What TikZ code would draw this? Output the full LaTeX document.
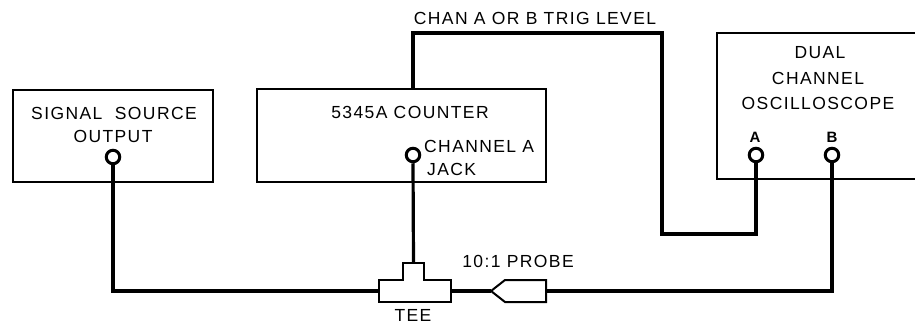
\documentclass[tikz,border=0pt]{standalone}
\usepackage{fontspec}
\setmainfont{Liberation Sans}[LetterSpace=8.0]
\begin{document}
\begin{tikzpicture}[x=1pt,y=-1pt,
  lbl/.style={font=\fontsize{17.5}{19}\selectfont, inner sep=0pt, align=center},
  box/.style={draw, line width=2pt, rectangle, inner sep=0pt},
  wire/.style={line width=3.2pt, line join=miter},
  jack/.style={circle, draw, line width=3pt, fill=white, minimum size=13.5pt, inner sep=0pt},
  part/.style={draw, line width=2pt, line join=miter}]
\useasboundingbox (0,0) rectangle (915,324);
% boxes
\node[box, minimum width=200pt, minimum height=92pt] (src) at (113,136) {};
\node[box, minimum width=289pt, minimum height=93pt] (ctr) at (401.5,135.5) {};
\coordinate (oscTL) at (717,33);
\coordinate (oscBL) at (717,179);
\coordinate (oscTR) at (915,33);
\coordinate (oscBR) at (915,179);
\draw[line width=2pt] (oscTR) -- (oscTL) -- (oscBL) -- (oscBR);
% texts
\node[lbl] (srct1) at (114,113) {SIGNAL\ \ SOURCE};
\node[lbl] (srct2) at (113,136) {OUTPUT};
\node[lbl] (ctrt) at (410,112) {5345A COUNTER};
\node[lbl, anchor=west] (cha) at (424,146) {CHANNEL A};
\node[lbl, anchor=west] (chj) at (427,169) {JACK};
\node[lbl] (trig) at (535,18) {CHAN A OR B TRIG LEVEL};
\node[lbl] (osc1) at (820,53) {DUAL};
\node[lbl] (osc2) at (818,78) {CHANNEL};
\node[lbl] (osc3) at (818,103) {OSCILLOSCOPE};
\node[lbl, font=\fontsize{15}{16}\selectfont\bfseries] (la) at (755,137) {A};
\node[lbl, font=\fontsize{15}{16}\selectfont\bfseries] (lb) at (832,137) {B};
\node[lbl] (probet) at (518,261) {10:1 PROBE};
\node[lbl] (teet) at (413,315) {TEE};
% tee
\coordinate (teeW) at (379,291);
\coordinate (teeE) at (451,291);
\coordinate (teeN) at (413.5,263);
\draw[part] (379,280) -- (403,280) -- (403,263) -- (424,263) -- (424,280) -- (451,280)
  -- (451,302) -- (379,302) -- cycle;
% probe
\coordinate (probeTip) at (491,291);
\coordinate (probeR) at (546,291);
\draw[part] (probeTip) -- (505,280) -- (546,280) -- (546,302) -- (505,302) -- cycle;
% wires
\coordinate (bcorner) at (832,291);
\coordinate (trig1) at (413,33);
\coordinate (trig2) at (662,33);
\coordinate (trig3) at (662,234);
\coordinate (trig4) at (756,234);
\node[jack] (jsrc) at (113,157) {};
\node[jack] (jctr) at (413,155) {};
\node[jack] (ja) at (756,155) {};
\node[jack] (jb) at (832,155) {};
\draw[wire] (jsrc.south) |- (teeW);
\draw[wire] (jctr.south) -- (teeN);
\draw[wire] (teeE) -- (probeTip);
\draw[wire] (probeR) -- (bcorner) -- (jb.south);
\draw[wire] (ctr.north -| trig1) -- (trig1) -- (trig2) -- (trig3) -- (trig4) -- (ja.south);
\end{tikzpicture}
\end{document}
